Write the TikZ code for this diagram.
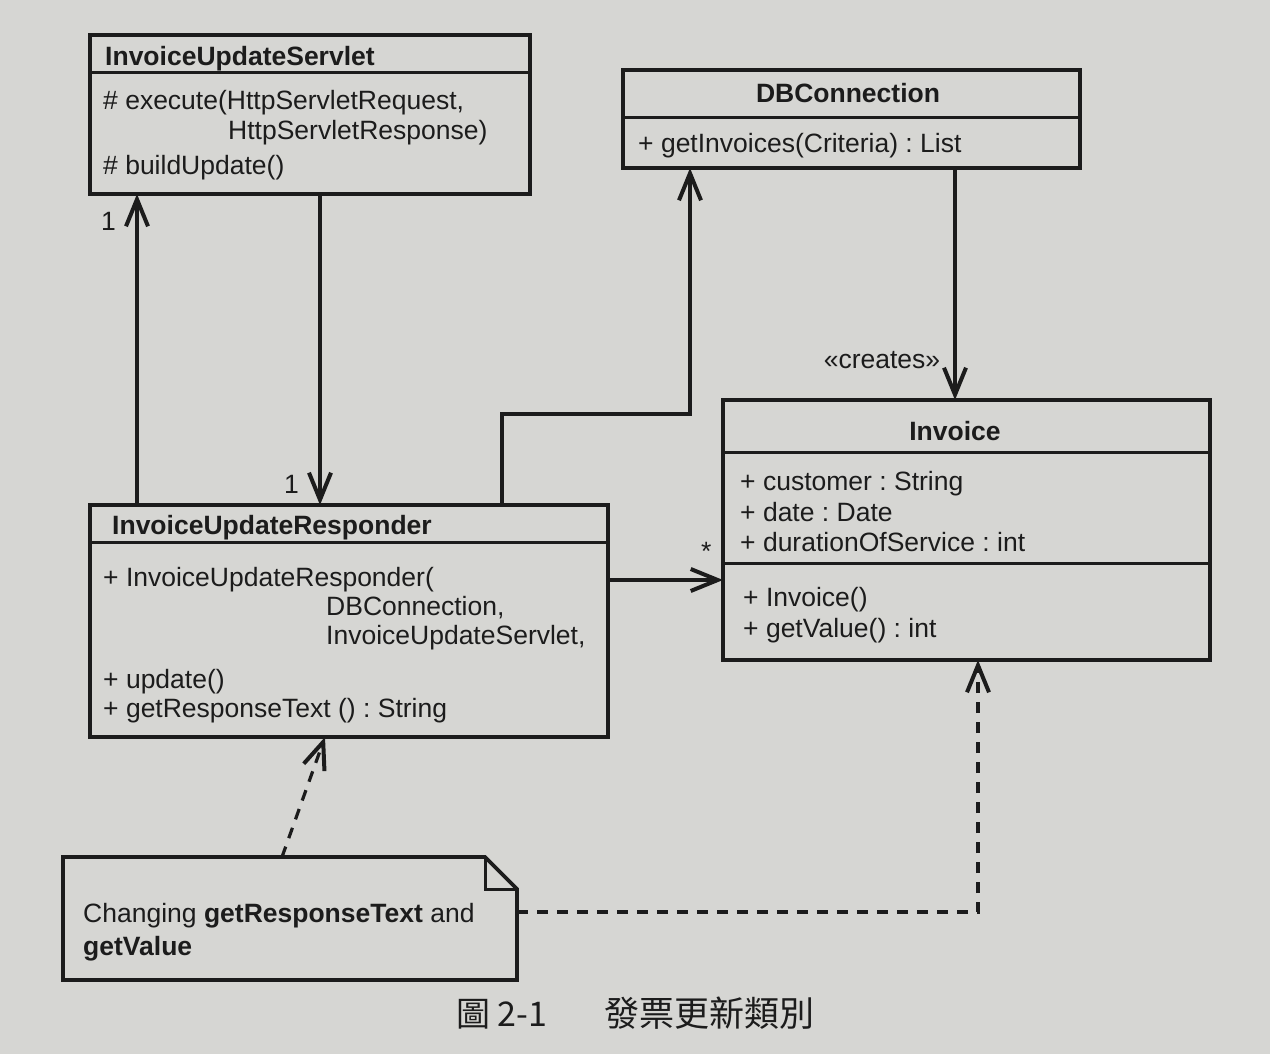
\documentclass[tikz,border=0pt]{standalone}
\usepackage{fontspec}
\setmainfont{Liberation Sans}
\newfontfamily\cjk{Noto Sans CJK TC}
\usetikzlibrary{arrows.meta}
\frenchspacing
\definecolor{paper}{RGB}{214,214,211}
\definecolor{ink}{RGB}{28,28,28}
\newcommand{\umlfont}{\fontsize{26.5}{30}\selectfont}
\tikzset{
  umlbox/.style={draw=ink, line width=3.8pt, inner sep=0pt, outer sep=0pt, anchor=north west},
  sepline/.style={draw=ink, line width=3pt},
  txt/.style={anchor=base west, inner sep=0pt, text=ink, font=\umlfont},
  ctxt/.style={anchor=base, inner sep=0pt, text=ink, font=\umlfont\bfseries},
  conn/.style={draw=ink, line width=3.2pt, -{Straight Barb[length=27pt,width=22pt,line width=4pt]}},
  dconn/.style={conn, dash pattern=on 11pt off 9pt},
}
\begin{document}
\begin{tikzpicture}[x=1pt,y=-1pt]
\fill[paper] (0,0) rectangle (1270,1054);
\useasboundingbox (0,0) rectangle (1270,1054);

% ---------- InvoiceUpdateServlet ----------
\node[umlbox, minimum width=440pt, minimum height=159pt] (srv) at (90,35) {};
\draw[sepline] (90,73) -- (530,73);
\node[txt, font=\umlfont\bfseries] (srvT) at (105,66) {InvoiceUpdateServlet};
\node[txt] (srv1) at (103,110) {\# execute(HttpServletRequest,};
\node[txt] (srv2) at (228,140) {HttpServletResponse)};
\node[txt] (srv3) at (103,175) {\# buildUpdate()};

% ---------- DBConnection ----------
\node[umlbox, minimum width=457pt, minimum height=98pt] (db) at (623,70) {};
\draw[sepline] (623,118) -- (1080,118);
\node[ctxt] (dbT) at (848,103) {DBConnection};
\node[txt] (db1) at (638,153) {+ getInvoices(Criteria) : List};

% ---------- InvoiceUpdateResponder ----------
\node[umlbox, minimum width=518pt, minimum height=232pt] (rsp) at (90,505) {};
\draw[sepline] (90,542) -- (608,542);
\node[txt, font=\umlfont\bfseries] (rspT) at (112,534) {InvoiceUpdateResponder};
\node[txt] (rsp1) at (103,586) {+ InvoiceUpdateResponder(};
\node[txt] (rsp2) at (326,615) {DBConnection,};
\node[txt] (rsp3) at (326,644) {InvoiceUpdateServlet,};
\node[txt] (rsp4) at (103,688) {+ update()};
\node[txt] (rsp5) at (103,717) {+ getResponseText () : String};

% ---------- Invoice ----------
\node[umlbox, minimum width=487pt, minimum height=260pt] (inv) at (723,400) {};
\draw[sepline] (723,452) -- (1210,452);
\draw[sepline] (723,563) -- (1210,563);
\node[ctxt] (invT) at (955,440) {Invoice};
\node[txt] (inv1) at (740,490) {+ customer : String};
\node[txt] (inv2) at (740,521) {+ date : Date};
\node[txt] (inv3) at (740,551) {+ durationOfService : int};
\node[txt] (inv4) at (743,606) {+ Invoice()};
\node[txt] (inv5) at (743,637) {+ getValue() : int};

% ---------- Note ----------
\node[inner sep=0pt, outer sep=0pt, minimum width=454pt, minimum height=123pt, anchor=north west] (note) at (63,857) {};
\draw[ink, line width=3.8pt, line join=miter]
  (63,857) -- (485,857) -- (517,889) -- (517,980) -- (63,980) -- cycle;
\draw[ink, line width=3pt, line join=miter] (485,857) -- (485,889) -- (517,889);
\node[txt] (note1) at (83,922) {Changing \textbf{getResponseText} and};
\node[txt] (note2) at (83,955) {\textbf{getValue}};

% ---------- coordinates for connectors ----------
\coordinate (xa) at (137,0);
\coordinate (xb) at (320,0);
\coordinate (xc) at (502,0);
\coordinate (xd) at (690,0);
\coordinate (bend1) at (502,414);
\coordinate (bend2) at (690,414);
\coordinate (xe) at (955,0);
\coordinate (yf) at (0,580);
\coordinate (xg) at (978,0);
\coordinate (corner) at (978,912);
\coordinate (yh) at (0,912);
\coordinate (nTop) at (282,857);
\coordinate (rBot) at (325,737);

% ---------- connectors ----------
\draw[conn] (rsp.north -| xa) -- (srv.south -| xa);
\draw[conn] (srv.south -| xb) -- (rsp.north -| xb);
\draw[conn, line join=miter] (rsp.north -| xc) -- (bend1) -- (bend2) -- (db.south -| xd);
\draw[conn] (db.south -| xe) -- (inv.north -| xe);
\draw[conn] (rsp.east |- yf) -- (inv.west |- yf);
\draw[dconn] (nTop) -- (rBot);
\draw[dconn] (note.east |- yh) -- (corner) -- (inv.south -| xg);

% ---------- labels ----------
\node[txt] (m1) at (101,230) {1};
\node[txt] (m2) at (284,493) {1};
\node[txt] (m3) at (701,560) {*};
\node[anchor=base, inner sep=0pt, text=ink, font=\umlfont] (cr) at (882,368) {«creates»};

% ---------- caption ----------
\node[anchor=base west, inner sep=0pt, text=ink, font=\cjk\fontsize{34}{40}\selectfont] (cap1) at (456,1026) {圖 2-1};
\node[anchor=base west, inner sep=0pt, text=ink, font=\cjk\fontsize{35}{40}\selectfont] (cap2) at (604,1026) {發票更新類別};
\end{tikzpicture}
\end{document}
